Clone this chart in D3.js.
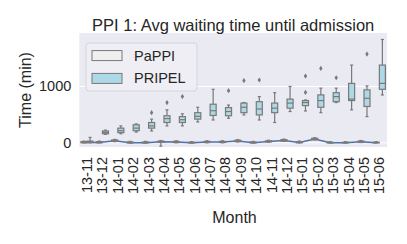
<!DOCTYPE html>
<html>
<head>
<meta charset="utf-8">
<script src="https://cdn.jsdelivr.net/npm/d3@7"></script>
<style>
  html, body { margin: 0; padding: 0; background: #ffffff; }
  svg { display: block; font-family: "Liberation Sans", Arial, sans-serif; }
</style>
</head>
<body>
<div id="chart"></div>
<script>
// categories
const months = ['13-11', '13-12', '14-01', '14-02', '14-03', '14-04', '14-05', '14-06', '14-07', '14-08',
  '14-09', '14-10', '14-11', '14-12', '15-01', '15-02', '15-03', '15-04', '15-05', '15-06'];
const seriesNames = ['PaPPI', 'PRIPEL'];
const yTicks = [0, 1000];

// PRIPEL box stats (minutes)
const pripelLo  = [0, 150, 160, 190, 210, 300, 300, 370, 405, 435, 495, 405, 360, 555, 565, 535, 715, 585, 465, 850];
const pripelQ1  = [5, 160, 180, 215, 260, 360, 360, 420, 485, 480, 535, 495, 535, 615, 660, 630, 730, 750, 645, 950];
const pripelMed = [15, 185, 215, 260, 300, 430, 410, 470, 570, 555, 630, 600, 615, 705, 715, 750, 820, 775, 790, 1055];
const pripelQ3  = [30, 210, 260, 320, 360, 480, 465, 535, 685, 625, 705, 730, 705, 775, 750, 850, 890, 1055, 940, 1380];
const pripelHi  = [95, 225, 300, 335, 420, 585, 515, 630, 950, 670, 715, 820, 890, 1000, 760, 970, 970, 1380, 1010, 1835];
const pripelOut = [[], [], [], [], [535], [715], [820], [], [], [925], [1105], [1115], [], [], [895, 1185], [1320], [1155], [], [1575], []];

// PaPPI box stats (minutes)
const pappiLo  = [0, 0, 20, 0, 0, -60, 0, 0, 0, 0, 15, 0, 10, 25, 0, 50, 0, 0, 5, 0];
const pappiQ1  = [0, 0, 25, 0, 0, 10, 5, 0, 5, 5, 20, 0, 15, 30, 0, 55, 0, 0, 10, 0];
const pappiMed = [5, 5, 35, 0, 0, 18, 12, 0, 12, 12, 30, 0, 23, 40, 5, 65, 0, 0, 20, 0];
const pappiQ3  = [20, 20, 50, 15, 15, 30, 25, 10, 25, 25, 45, 15, 35, 55, 20, 80, 10, 10, 30, 10];
const pappiHi  = [30, 30, 60, 25, 25, 40, 35, 20, 35, 35, 55, 25, 45, 65, 30, 90, 20, 20, 40, 20];

const COLORS = {
  bg: '#eaeaf2',
  grid: '#ffffff',
  text: '#262626',
  edge: '#797979',
  line: '#4c72b0',
  fills: { PaPPI: '#efefef', PRIPEL: '#add8e6' }
};

const width = 407;
const height = 244;
const plot = { left: 79.3, right: 387, top: 33, bottom: 147 };

const svg = d3.select('#chart').append('svg')
  .attr('width', width)
  .attr('height', height);

// scales
const x = d3.scaleBand().domain(months).range([plot.left, plot.right]).padding(0);
const hue = d3.scaleBand().domain(seriesNames).range([x.bandwidth() * 0.1, x.bandwidth() * 0.9]);
const y = d3.scaleLinear().domain([-75, 1950]).range([plot.bottom, plot.top]);

// background + grid
svg.append('rect')
  .attr('x', plot.left).attr('y', plot.top)
  .attr('width', plot.right - plot.left).attr('height', plot.bottom - plot.top)
  .attr('fill', COLORS.bg);

svg.append('g').selectAll('line')
  .data(yTicks)
  .join('line')
  .attr('x1', plot.left).attr('x2', plot.right)
  .attr('y1', d => y(d)).attr('y2', d => y(d))
  .attr('stroke', COLORS.grid).attr('stroke-width', 1);

// y tick labels
svg.append('g').selectAll('text')
  .data(yTicks)
  .join('text')
  .attr('x', plot.left - 8)
  .attr('y', d => y(d))
  .attr('text-anchor', 'end')
  .attr('dominant-baseline', 'central')
  .attr('font-size', 14.5)
  .attr('fill', COLORS.text)
  .text(d => d);

// x tick labels (rotated)
svg.append('g').selectAll('text')
  .data(months)
  .join('text')
  .attr('transform', d => `translate(${x(d) + x.bandwidth() / 2},${plot.bottom + 10}) rotate(-90)`)
  .attr('text-anchor', 'end')
  .attr('dominant-baseline', 'central')
  .attr('font-size', 14.5)
  .attr('fill', COLORS.text)
  .text(d => d);

// PaPPI line through medians
const pappiX = i => x(months[i]) + hue('PaPPI') + hue.bandwidth() / 2;
svg.append('path')
  .datum(pappiMed)
  .attr('d', d3.line().x((d, i) => pappiX(i)).y(d => y(d)))
  .attr('fill', 'none')
  .attr('stroke', COLORS.line)
  .attr('stroke-width', 1.5);

// boxes
const boxData = [];
months.forEach((m, i) => {
  boxData.push({ month: m, series: 'PaPPI', lo: pappiLo[i], q1: pappiQ1[i], med: pappiMed[i], q3: pappiQ3[i], hi: pappiHi[i], out: [] });
  boxData.push({ month: m, series: 'PRIPEL', lo: pripelLo[i], q1: pripelQ1[i], med: pripelMed[i], q3: pripelQ3[i], hi: pripelHi[i], out: pripelOut[i] });
});

const boxW = hue.bandwidth() * 0.98;
const capW = boxW / 2;

const boxes = svg.append('g').selectAll('g')
  .data(boxData)
  .join('g')
  .attr('transform', d => `translate(${x(d.month) + hue(d.series) + hue.bandwidth() / 2},0)`);

// whiskers
boxes.append('line')
  .attr('x1', 0).attr('x2', 0)
  .attr('y1', d => y(d.hi)).attr('y2', d => y(d.q3))
  .attr('stroke', COLORS.edge).attr('stroke-width', 1.2);
boxes.append('line')
  .attr('x1', 0).attr('x2', 0)
  .attr('y1', d => y(d.q1)).attr('y2', d => y(d.lo))
  .attr('stroke', COLORS.edge).attr('stroke-width', 1.2);
// caps
boxes.append('line')
  .attr('x1', -capW / 2).attr('x2', capW / 2)
  .attr('y1', d => y(d.hi)).attr('y2', d => y(d.hi))
  .attr('stroke', COLORS.edge).attr('stroke-width', 1.2);
boxes.append('line')
  .attr('x1', -capW / 2).attr('x2', capW / 2)
  .attr('y1', d => y(d.lo)).attr('y2', d => y(d.lo))
  .attr('stroke', COLORS.edge).attr('stroke-width', 1.2);

boxes.append('rect')
  .attr('x', -boxW / 2)
  .attr('width', boxW)
  .attr('y', d => y(d.q3))
  .attr('height', d => Math.max(0.5, y(d.q1) - y(d.q3)))
  .attr('fill', d => COLORS.fills[d.series])
  .attr('stroke', COLORS.edge).attr('stroke-width', 1.2);

boxes.append('line')
  .attr('x1', -boxW / 2).attr('x2', boxW / 2)
  .attr('y1', d => y(d.med)).attr('y2', d => y(d.med))
  .attr('stroke', COLORS.edge).attr('stroke-width', 1.2);

// outliers (thin diamonds)
boxes.selectAll('path.flier')
  .data(d => d.out)
  .join('path')
  .attr('class', 'flier')
  .attr('d', d => `M0,${y(d) - 2.6}L1.7,${y(d)}L0,${y(d) + 2.6}L-1.7,${y(d)}Z`)
  .attr('fill', COLORS.edge);

// legend
const legend = svg.append('g');
legend.append('rect')
  .attr('x', 86).attr('y', 43)
  .attr('width', 111).attr('height', 48)
  .attr('rx', 3)
  .attr('fill', '#eeeef4')
  .attr('stroke', '#d4d4da')
  .attr('stroke-width', 1);

const legendRow = d3.scaleBand().domain(seriesNames).range([43, 91]).padding(0.1);
const items = legend.selectAll('g.item')
  .data(seriesNames)
  .join('g')
  .attr('class', 'item')
  .attr('transform', d => `translate(0,${legendRow(d) + legendRow.bandwidth() / 2})`);
items.append('rect')
  .attr('x', 92).attr('y', -5)
  .attr('width', 30).attr('height', 10)
  .attr('fill', d => COLORS.fills[d])
  .attr('stroke', COLORS.edge).attr('stroke-width', 1);
items.append('text')
  .attr('x', 134)
  .attr('dominant-baseline', 'central')
  .attr('font-size', 14.5)
  .attr('fill', COLORS.text)
  .text(d => d);

// titles
svg.append('text')
  .attr('x', (plot.left + plot.right) / 2)
  .attr('y', 31)
  .attr('text-anchor', 'middle')
  .attr('font-size', 16.5)
  .attr('fill', COLORS.text)
  .text('PPI 1: Avg waiting time until admission');

svg.append('text')
  .attr('x', 234.5)
  .attr('y', 223)
  .attr('text-anchor', 'middle')
  .attr('font-size', 16)
  .attr('fill', COLORS.text)
  .text('Month');

svg.append('text')
  .attr('transform', `translate(25,${(plot.top + plot.bottom) / 2}) rotate(-90)`)
  .attr('text-anchor', 'middle')
  .attr('dominant-baseline', 'central')
  .attr('font-size', 16)
  .attr('fill', COLORS.text)
  .text('Time (min)');
</script>
</body>
</html>
